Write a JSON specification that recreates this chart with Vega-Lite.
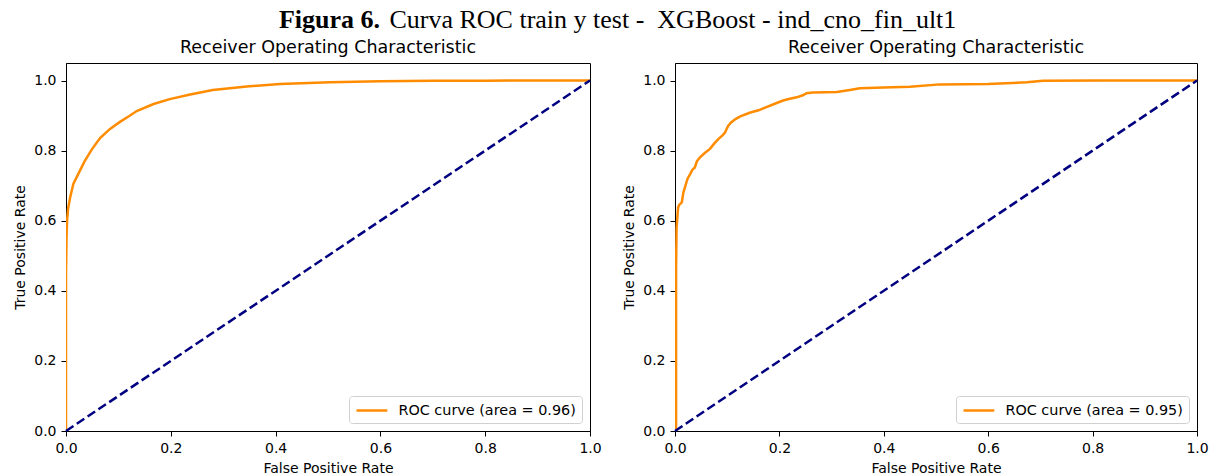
{
  "$schema": "https://vega.github.io/schema/vega-lite/v6.json",
  "background": "white",
  "padding": {"left": 13, "top": 7, "right": 5, "bottom": 0},
  "title": {
    "text": "Figura 6.",
    "subtitle": "\u200b\u2003\u2003\u2003\u2003\u00a0Curva ROC train y test -\u00a0 XGBoost - ind_cno_fin_ult1",
    "font": "Liberation Serif",
    "fontSize": 26,
    "fontWeight": "bold",
    "color": "black",
    "subtitleFont": "Liberation Serif",
    "subtitleFontSize": 26,
    "subtitleFontWeight": "normal",
    "subtitleColor": "black",
    "subtitlePadding": -26,
    "anchor": "middle",
    "align": "left",
    "dx": -332,
    "offset": 5.5
  },
  "datasets": {
    "train": [
      {"fpr": 0, "tpr": 0}, {"fpr": 0, "tpr": 0.45}, {"fpr": 0.001, "tpr": 0.55}, {"fpr": 0.002, "tpr": 0.6},
      {"fpr": 0.004, "tpr": 0.635}, {"fpr": 0.008, "tpr": 0.667}, {"fpr": 0.014, "tpr": 0.705}, {"fpr": 0.024, "tpr": 0.735},
      {"fpr": 0.036, "tpr": 0.771}, {"fpr": 0.049, "tpr": 0.803}, {"fpr": 0.065, "tpr": 0.836}, {"fpr": 0.084, "tpr": 0.862},
      {"fpr": 0.103, "tpr": 0.882}, {"fpr": 0.12, "tpr": 0.898}, {"fpr": 0.135, "tpr": 0.913}, {"fpr": 0.167, "tpr": 0.933},
      {"fpr": 0.198, "tpr": 0.947}, {"fpr": 0.237, "tpr": 0.96}, {"fpr": 0.28, "tpr": 0.973}, {"fpr": 0.345, "tpr": 0.983},
      {"fpr": 0.408, "tpr": 0.99}, {"fpr": 0.504, "tpr": 0.995}, {"fpr": 0.6, "tpr": 0.998}, {"fpr": 0.7, "tpr": 0.999},
      {"fpr": 0.8, "tpr": 0.9995}, {"fpr": 0.9, "tpr": 1.0}, {"fpr": 1, "tpr": 1}
    ],
    "test": [
      {"fpr": 0, "tpr": 0}, {"fpr": 0.002, "tpr": 0.0}, {"fpr": 0.002, "tpr": 0.46}, {"fpr": 0.003, "tpr": 0.58},
      {"fpr": 0.005, "tpr": 0.62}, {"fpr": 0.006, "tpr": 0.638}, {"fpr": 0.008, "tpr": 0.645}, {"fpr": 0.013, "tpr": 0.652},
      {"fpr": 0.016, "tpr": 0.68}, {"fpr": 0.019, "tpr": 0.695}, {"fpr": 0.024, "tpr": 0.72}, {"fpr": 0.029, "tpr": 0.733},
      {"fpr": 0.033, "tpr": 0.745}, {"fpr": 0.038, "tpr": 0.752}, {"fpr": 0.042, "tpr": 0.77}, {"fpr": 0.048, "tpr": 0.781},
      {"fpr": 0.057, "tpr": 0.793}, {"fpr": 0.067, "tpr": 0.805}, {"fpr": 0.075, "tpr": 0.82}, {"fpr": 0.083, "tpr": 0.833},
      {"fpr": 0.092, "tpr": 0.845}, {"fpr": 0.096, "tpr": 0.852}, {"fpr": 0.1, "tpr": 0.865}, {"fpr": 0.102, "tpr": 0.871},
      {"fpr": 0.108, "tpr": 0.881}, {"fpr": 0.116, "tpr": 0.89}, {"fpr": 0.124, "tpr": 0.897}, {"fpr": 0.143, "tpr": 0.908},
      {"fpr": 0.16, "tpr": 0.915}, {"fpr": 0.175, "tpr": 0.924}, {"fpr": 0.19, "tpr": 0.933}, {"fpr": 0.207, "tpr": 0.943},
      {"fpr": 0.22, "tpr": 0.948}, {"fpr": 0.233, "tpr": 0.952}, {"fpr": 0.245, "tpr": 0.958}, {"fpr": 0.252, "tpr": 0.964},
      {"fpr": 0.264, "tpr": 0.966}, {"fpr": 0.31, "tpr": 0.967}, {"fpr": 0.335, "tpr": 0.973}, {"fpr": 0.354, "tpr": 0.978},
      {"fpr": 0.4, "tpr": 0.98}, {"fpr": 0.45, "tpr": 0.982}, {"fpr": 0.508, "tpr": 0.989}, {"fpr": 0.6, "tpr": 0.99},
      {"fpr": 0.674, "tpr": 0.995}, {"fpr": 0.705, "tpr": 0.999}, {"fpr": 0.81, "tpr": 1.0}, {"fpr": 1, "tpr": 1}
    ],
    "diag": [{"fpr": 0, "tpr": 0}, {"fpr": 1, "tpr": 1}]
  },
  "spacing": 20,
  "resolve": {"scale": {"color": "independent"}, "legend": {"color": "independent"}},
  "hconcat": [
    {
      "width": 524,
      "height": 368,
      "title": {"text": "Receiver Operating Characteristic"},
      "layer": [
        {
          "data": {"name": "train"},
          "mark": {"type": "line", "strokeWidth": 2.5, "clip": true},
          "encoding": {
            "x": {"field": "fpr", "type": "quantitative", "scale": {"domain": [0, 1], "nice": false, "zero": false},
                  "axis": {"title": "False Positive Rate", "values": [0, 0.2, 0.4, 0.6, 0.8, 1.0], "format": ".1f"}},
            "y": {"field": "tpr", "type": "quantitative", "scale": {"domain": [0, 1.05], "nice": false, "zero": false},
                  "axis": {"title": "True Positive Rate", "values": [0, 0.2, 0.4, 0.6, 0.8, 1.0], "format": ".1f"}},
            "order": [{"field": "fpr"}, {"field": "tpr"}],
            "color": {"datum": "ROC curve (area = 0.96)", "type": "nominal", "scale": {"range": ["#ff8c00"]}, "legend": {"title": null}}
          }
        },
        {
          "data": {"name": "diag"},
          "mark": {"type": "line", "color": "#000080", "strokeWidth": 2.5, "strokeDash": [9, 4]},
          "encoding": {
            "x": {"field": "fpr", "type": "quantitative"},
            "y": {"field": "tpr", "type": "quantitative"}
          }
        }
      ]
    },
    {
      "width": 522,
      "height": 368,
      "title": {"text": "Receiver Operating Characteristic"},
      "layer": [
        {
          "data": {"name": "test"},
          "mark": {"type": "line", "strokeWidth": 2.5, "clip": true},
          "encoding": {
            "x": {"field": "fpr", "type": "quantitative", "scale": {"domain": [0, 1], "nice": false, "zero": false},
                  "axis": {"title": "False Positive Rate", "values": [0, 0.2, 0.4, 0.6, 0.8, 1.0], "format": ".1f"}},
            "y": {"field": "tpr", "type": "quantitative", "scale": {"domain": [0, 1.05], "nice": false, "zero": false},
                  "axis": {"title": "True Positive Rate", "values": [0, 0.2, 0.4, 0.6, 0.8, 1.0], "format": ".1f"}},
            "order": [{"field": "fpr"}, {"field": "tpr"}],
            "color": {"datum": "ROC curve (area = 0.95)", "type": "nominal", "scale": {"range": ["#ff8c00"]}, "legend": {"title": null}}
          }
        },
        {
          "data": {"name": "diag"},
          "mark": {"type": "line", "color": "#000080", "strokeWidth": 2.5, "strokeDash": [9, 4]},
          "encoding": {
            "x": {"field": "fpr", "type": "quantitative"},
            "y": {"field": "tpr", "type": "quantitative"}
          }
        }
      ]
    }
  ],
  "config": {
    "font": "DejaVu Sans",
    "view": {"stroke": "black", "strokeWidth": 1},
    "title": {"font": "DejaVu Sans", "fontSize": 17.5, "fontWeight": "normal", "color": "black", "offset": 6.5, "anchor": "middle"},
    "axis": {
      "grid": false, "domainColor": "black", "tickColor": "black", "labelColor": "black", "titleColor": "black",
      "labelFont": "DejaVu Sans", "titleFont": "DejaVu Sans", "labelFontSize": 14, "titleFontSize": 14,
      "titleFontWeight": "normal", "tickSize": 5, "labelPadding": 5, "titlePadding": 6, "labelOverlap": false,
      "labelFlush": false, "labelBound": false
    },
    "legend": {
      "orient": "bottom-right", "offset": 8, "padding": 6, "strokeColor": "#d0d0d0", "cornerRadius": 3,
      "fillColor": "white", "symbolType": "M-2.2,0H2.2", "symbolSize": 196, "symbolStrokeWidth": 2.5,
      "symbolOffset": 8.4,
      "labelFont": "DejaVu Sans", "labelFontSize": 14.4, "labelColor": "black", "labelOffset": 18, "labelLimit": 0
    }
  }
}
